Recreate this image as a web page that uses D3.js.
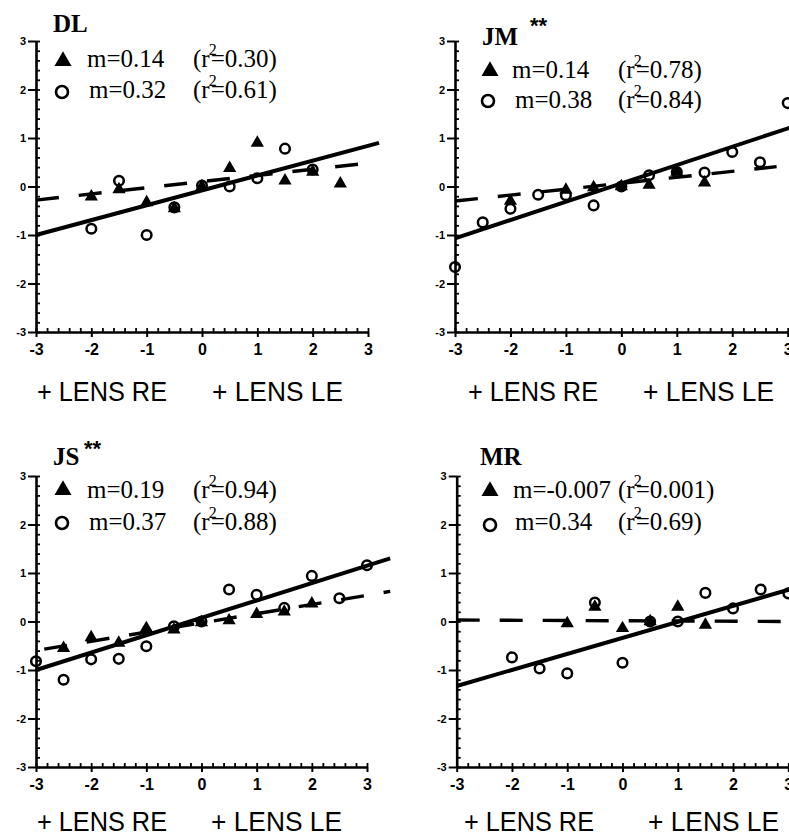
<!DOCTYPE html>
<html><head><meta charset="utf-8">
<script src="https://cdn.jsdelivr.net/npm/d3@7"></script>
<style>body{margin:0;background:#fff} svg{display:block;background:#fff}</style>
</head><body>
<svg id="c" width="789" height="836"></svg>
<script>
// ---------- data ----------
const panelNames = ["DL", "JM", "JS", "MR"];
const panelStars = ["", "**", "**", ""];
const majorTicks = [-3, -2, -1, 0, 1, 2, 3];
const tickLabels = ["-3", "-2", "-1", "0", "1", "2", "3"];
const axisLabelRE = "+ LENS RE";
const axisLabelLE = "+ LENS LE";

const triSlopeText = ["m=0.14", "m=0.14", "m=0.19", "m=-0.007"];
const triR2Text = ["0.30", "0.78", "0.94", "0.001"];
const circSlopeText = ["m=0.32", "m=0.38", "m=0.37", "m=0.34"];
const circR2Text = ["0.61", "0.84", "0.88", "0.69"];

// DL
const dlCircX = [-2, -1.5, -1, -0.5, 0, 0.5, 1, 1.5, 2];
const dlCircY = [-0.87, 0.12, -1.0, -0.43, 0.02, 0.0, 0.17, 0.78, 0.35];
const dlTriX = [-2, -1.5, -1, -0.5, 0, 0.5, 1, 1.5, 2, 2.5];
const dlTriY = [-0.21, -0.06, -0.33, -0.45, 0.0, 0.38, 0.9, 0.12, 0.3, 0.06];
// JM
const jmCircX = [-3, -2.5, -2, -1.5, -1, -0.5, 0, 0.5, 1, 1.5, 2, 2.5, 3];
const jmCircY = [-1.66, -0.74, -0.46, -0.17, -0.18, -0.39, 0.0, 0.23, 0.3, 0.29, 0.71, 0.5, 1.72];
const jmTriX = [-2, -1, -0.5, 0, 0.5, 1, 1.5];
const jmTriY = [-0.3, -0.07, -0.02, 0.0, 0.03, 0.3, 0.08];
// JS
const jsCircX = [-3, -2.5, -2, -1.5, -1, -0.5, 0, 0.5, 1, 1.5, 2, 2.5, 3];
const jsCircY = [-0.82, -1.2, -0.78, -0.77, -0.51, -0.1, 0.0, 0.66, 0.55, 0.28, 0.94, 0.48, 1.16];
const jsTriX = [-2.5, -2, -1.5, -1, -0.5, 0, 0.5, 1, 1.5, 2];
const jsTriY = [-0.55, -0.33, -0.44, -0.14, -0.17, -0.02, 0.02, 0.15, 0.2, 0.37];
// MR
const mrCircX = [-2, -1.5, -1, -0.5, 0, 0.5, 1, 1.5, 2, 2.5, 3];
const mrCircY = [-0.74, -0.97, -1.07, 0.39, -0.85, 0.0, 0.0, 0.59, 0.27, 0.66, 0.58];
const mrTriX = [-1, -0.5, 0, 0.5, 1, 1.5];
const mrTriY = [-0.04, 0.3, -0.14, 0.0, 0.3, -0.07];

// regression lines [x0, y0, x1, y1]
const circFits = [[-3, -1.0, 3.2, 0.9], [-3, -1.07, 3.06, 1.22], [-3, -1.0, 3.42, 1.3], [-3, -1.33, 3.05, 0.67]];
const triFits = [[-3, -0.28, 2.82, 0.46], [-3, -0.3, 2.8, 0.41], [-2.85, -0.57, 3.42, 0.62], [-3, 0.03, 3.1, 0.0]];

const circX = [dlCircX, jmCircX, jsCircX, mrCircX];
const circY = [dlCircY, jmCircY, jsCircY, mrCircY];
const triX = [dlTriX, jmTriX, jsTriX, mrTriX];
const triY = [dlTriY, jmTriY, jsTriY, mrTriY];

// ---------- layout ----------
const layouts = [
  {x0: 36, x1: 368, yTop: 41, yBot: 332, title: [53, 32], stars: null,
   tri: [63, 61], triText: [87, 67], r2X: 193, circ: [62, 92], circText: [89, 98], labY: 401, reX: 37, leX: 212},
  {x0: 455, x1: 787.7, yTop: 41, yBot: 332, title: [482, 45], stars: [530, 33],
   tri: [490, 71], triText: [512, 78], r2X: 618, circ: [488, 101], circText: [515, 108], labY: 401, reX: 468, leX: 643},
  {x0: 36, x1: 367, yTop: 476, yBot: 767, title: [53, 465], stars: [84, 456],
   tri: [63, 490], triText: [87, 498], r2X: 193, circ: [62, 523], circText: [89, 530], labY: 831, reX: 37, leX: 211},
  {x0: 456.7, x1: 788.3, yTop: 476, yBot: 767, title: [480, 465], stars: null,
   tri: [490, 491], triText: [513, 498], r2X: 618, circ: [490, 525], circText: [515, 530], labY: 831, reX: 464, leX: 648}
];

const svg = d3.select("#c");
const minorTicks = d3.range(-30, 31, 2).map(v => v / 10);
const triSym = d3.symbol().type(d3.symbolTriangle).size(76);
const triSymBig = d3.symbol().type(d3.symbolTriangle).size(125);
const serif = "'Liberation Serif', 'Times New Roman', serif";
const sans = "'Liberation Sans', Arial, sans-serif";

layouts.forEach((L, i) => {
  const x = d3.scaleLinear().domain([-3, 3]).range([L.x0, L.x1]);
  const y = d3.scaleLinear().domain([-3, 3]).range([L.yBot, L.yTop]);
  const g = svg.append("g");

  // minor ticks (inward)
  g.append("g").attr("transform", `translate(0,${L.yBot})`)
    .call(d3.axisBottom(x).tickValues(minorTicks).tickSize(-4).tickFormat(""))
    .call(s => { s.select(".domain").remove(); s.selectAll("line").attr("stroke-width", 1.8); });
  g.append("g").attr("transform", `translate(${L.x0},0)`)
    .call(d3.axisLeft(y).tickValues(minorTicks).tickSize(-4).tickFormat(""))
    .call(s => { s.select(".domain").remove(); s.selectAll("line").attr("stroke-width", 1.8); });

  // major axes
  const xa = g.append("g").attr("transform", `translate(0,${L.yBot})`)
    .call(d3.axisBottom(x).tickValues(majorTicks).tickSizeInner(5).tickSizeOuter(0).tickPadding(6.5)
      .tickFormat((d, k) => tickLabels[k]));
  xa.select(".domain").attr("stroke-width", 2.6);
  xa.selectAll("line").attr("stroke-width", 2);
  xa.selectAll("text").attr("font-family", sans).attr("font-weight", "bold").attr("font-size", 16).attr("fill", "#000");

  const ya = g.append("g").attr("transform", `translate(${L.x0},0)`)
    .call(d3.axisLeft(y).tickValues(majorTicks).tickSizeInner(8).tickSizeOuter(0).tickPadding(2)
      .tickFormat((d, k) => tickLabels[k]));
  ya.select(".domain").attr("stroke-width", 2.6);
  ya.selectAll("line").attr("stroke-width", 2);
  ya.selectAll("text").attr("font-family", sans).attr("font-weight", "bold").attr("font-size", 11).attr("fill", "#000");

  // regression lines
  const line = d3.line().x(d => x(d[0])).y(d => y(d[1]));
  const cf = circFits[i], tf = triFits[i];
  g.append("path").attr("d", line([[cf[0], cf[1]], [cf[2], cf[3]]]))
    .attr("stroke", "#000").attr("stroke-width", 4).attr("fill", "none");
  g.append("path").attr("d", line([[tf[0], tf[1]], [tf[2], tf[3]]]))
    .attr("stroke", "#000").attr("stroke-width", 3.4).attr("fill", "none")
    .attr("stroke-dasharray", "23,20");

  // triangles
  g.selectAll(".tri").data(triX[i].map((v, k) => [v, triY[i][k]])).join("path")
    .attr("d", triSym).attr("transform", d => `translate(${x(d[0])},${y(d[1])})`)
    .attr("fill", "#000");
  // circles
  g.selectAll(".circ").data(circX[i].map((v, k) => [v, circY[i][k]])).join("circle")
    .attr("cx", d => x(d[0])).attr("cy", d => y(d[1])).attr("r", 4.8)
    .attr("fill", "none").attr("stroke", "#000").attr("stroke-width", 2.5);

  // title
  g.append("text").attr("x", L.title[0]).attr("y", L.title[1]).text(panelNames[i])
    .attr("font-family", serif).attr("font-weight", "bold").attr("font-size", 25);
  if (L.stars) {
    g.append("text").attr("x", L.stars[0]).attr("y", L.stars[1]).text(panelStars[i])
      .attr("font-family", sans).attr("font-weight", "bold").attr("font-size", 22);
  }

  // legend
  g.append("path").attr("d", triSymBig).attr("transform", `translate(${L.tri[0]},${L.tri[1]})`).attr("fill", "#000");
  g.append("circle").attr("cx", L.circ[0]).attr("cy", L.circ[1]).attr("r", 6)
    .attr("fill", "none").attr("stroke", "#000").attr("stroke-width", 2.6);

  function legendRow(tx, ty, mText, r2) {
    g.append("text").attr("x", tx).attr("y", ty).text(mText)
      .attr("font-family", serif).attr("font-size", 25);
    const t = g.append("text").attr("x", L.r2X).attr("y", ty)
      .attr("font-family", serif).attr("font-size", 25);
    t.append("tspan").text("(r");
    t.append("tspan").attr("dx", -1).attr("dy", -12).attr("font-size", 16).text("2");
    t.append("tspan").attr("dx", -6).attr("dy", 12).text("=" + r2 + ")");
  }
  legendRow(L.triText[0], L.triText[1], triSlopeText[i], triR2Text[i]);
  legendRow(L.circText[0], L.circText[1], circSlopeText[i], circR2Text[i]);

  // bottom labels
  g.append("text").attr("x", L.reX).attr("y", L.labY).text(axisLabelRE)
    .attr("font-family", sans).attr("font-size", 28)
    .attr("textLength", 130).attr("lengthAdjust", "spacingAndGlyphs");
  g.append("text").attr("x", L.leX).attr("y", L.labY).text(axisLabelLE)
    .attr("font-family", sans).attr("font-size", 28)
    .attr("textLength", 131).attr("lengthAdjust", "spacingAndGlyphs");
});
</script>
</body></html>
